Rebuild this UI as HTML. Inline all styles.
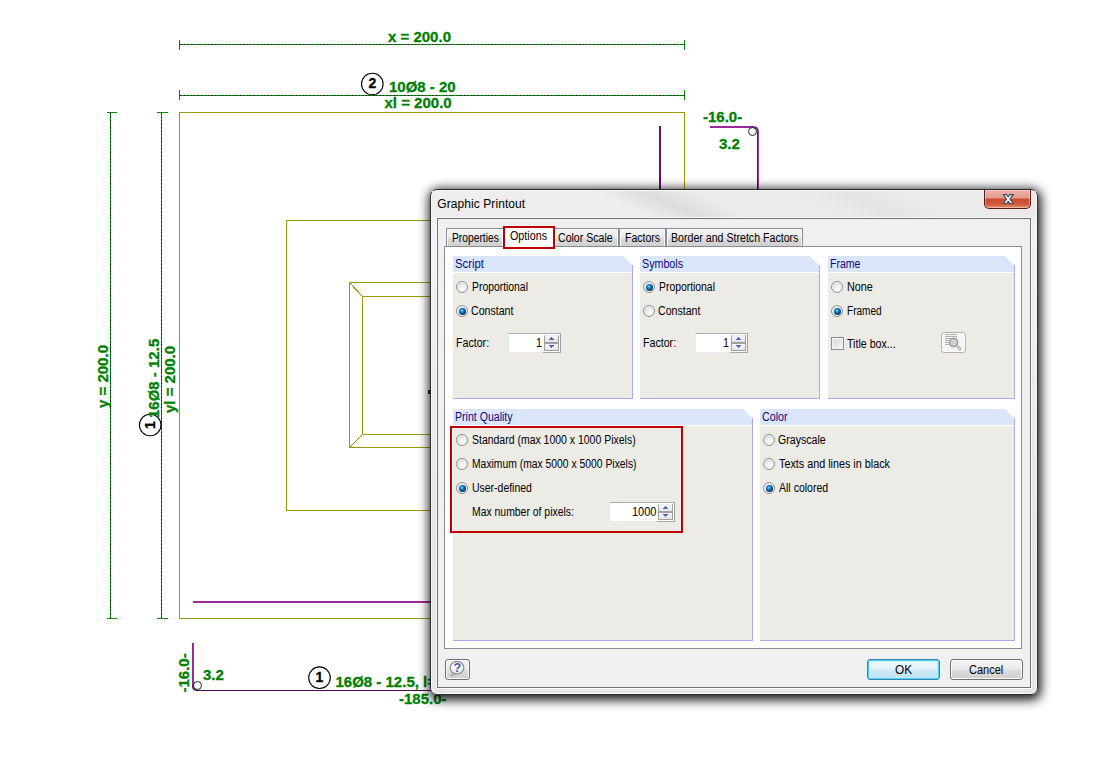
<!DOCTYPE html>
<html lang="en">
<head>
<meta charset="utf-8">
<title>Graphic Printout</title>
<style>
html,body{margin:0;padding:0;background:#fff;}
body{width:1101px;height:775px;position:relative;overflow:hidden;font-family:"Liberation Sans",sans-serif;}
#draw{position:absolute;left:0;top:0;width:1101px;height:775px;}
#draw text{font-family:"Liberation Sans",sans-serif;font-weight:bold;font-size:15px;fill:#008000;stroke:#008000;stroke-width:.3px;}
#draw text.k{fill:#000;stroke:#000;font-size:14px;}
.abs{position:absolute;}
/* dialog */
#dlg{position:absolute;left:430px;top:189px;width:606px;height:504px;border:1px solid #2a2a2a;border-radius:7px;
 background:linear-gradient(180deg,#f2f2f2 0%,#efefef 25%,#e5e5e5 70%,#e6e6e6 100%);
 box-shadow:inset 0 0 0 1px #fbfbfb, 1px 2.5px 11px 2px rgba(0,0,0,.9);}
#title{position:absolute;left:437.3px;top:197px;font-size:12px;color:#000;letter-spacing:.08px;white-space:pre;line-height:14px;}
#client{position:absolute;left:437px;top:218px;width:592px;height:468px;border:1px solid #707070;background:#f0f0f0;box-shadow:0 0 0 1px #fafafa;}
#close{position:absolute;left:984px;top:190px;width:45px;height:18px;border:1px solid #5a1a12;border-top:none;border-radius:0 0 5px 5px;
 background:linear-gradient(#eeb1a6 0%,#e09a8c 45%,#cd4a30 50%,#d15a3c 80%,#e8957c 100%);box-shadow:inset 0 0 0 1px rgba(255,255,255,.35);}
.t,.gt{position:absolute;font-size:12.5px;white-space:pre;line-height:15px;color:#000;transform-origin:0 0;transform:scaleX(var(--k,.86));}
.tab{position:absolute;top:228px;height:18px;border:1px solid #898c95;border-bottom:none;box-sizing:border-box;
 background:linear-gradient(#f3f3f3 0%,#ebebeb 48%,#dddddd 52%,#cfcfcf 100%);box-shadow:inset 1px 1px 0 #fbfbfb,inset -1px 0 0 #fbfbfb;}
#page{position:absolute;left:444px;top:246px;width:576px;height:401px;border:1px solid #898c95;background:#fff;}
.gh{position:absolute;height:16px;background:#dbe5fa;}
.gb{position:absolute;background:#ecebe6;border-right:1px solid #a9a9f0;border-bottom:1px solid #a9a9f0;box-sizing:border-box;}
.gt{color:#0a0a82;}
.rb{position:absolute;width:10px;height:10px;border:1px solid #8e8f8f;border-radius:50%;
 background:radial-gradient(circle at 62% 66%,#ffffff 0%,#eceded 40%,#c3c7cb 100%);box-shadow:inset 0 0 0 1px #f6f6f6;}
.rb.on::after{content:"";position:absolute;left:1.5px;top:1.5px;width:7px;height:7px;border-radius:50%;
 background:radial-gradient(circle at 42% 38%,#6fd4f5 0%,#1c86c6 28%,#0c3f74 58%,#082844 100%);}
.spin{position:absolute;height:18px;border:1px solid #e3e9ef;border-top-color:#abadb3;border-right-color:#a0a0a0;background:#fff;}
.sb{position:absolute;width:15px;border:1px solid #a0a0a0;background:linear-gradient(#f7f7f7,#e4e4e4);box-sizing:border-box;}
.btn{position:absolute;height:19px;border:1px solid #707070;border-radius:3px;
 background:linear-gradient(#f2f2f2 0%,#ebebeb 48%,#dddddd 52%,#cfcfcf 100%);box-shadow:inset 0 0 0 1px #fcfcfc;}
</style>
</head>
<body>
<!-- ================= drawing ================= -->
<svg id="draw" width="1101" height="775" viewBox="0 0 1101 775" shape-rendering="crispEdges">
 <!-- olive rectangles -->
 <g fill="none" stroke="#999900" stroke-width="1">
  <rect x="179.5" y="112.5" width="505" height="506"/>
  <rect x="286.5" y="220.5" width="291" height="290"/>
  <rect x="349.5" y="282.5" width="165" height="165"/>
  <rect x="362.5" y="296.5" width="139" height="138"/>
  <line x1="349.5" y1="282.5" x2="362.5" y2="296.5"/>
  <line x1="349.5" y1="447.5" x2="362.5" y2="434.5"/>
 </g>
 <!-- dimension lines -->
 <g fill="none" stroke="#008c00" stroke-width="1">
  <path d="M179.5 44.5H684.5M179.5 40V50M684.5 40V50"/>
  <path d="M179.5 95.5H684.5M179.5 90V100M684.5 90V100"/>
  <path d="M110.5 112.5V618.5M107 112.5H117M107 618.5H117"/>
  <path d="M161.5 112.5V618.5M157 112.5H168M157 618.5H168"/>
 </g>
 <g fill="none" stroke="#000" stroke-width="1" stroke-dasharray="1 2.5">
  <path d="M180 44.5H684.5M180 95.5H684.5M110.5 113V618.5M161.5 113V618.5"/>
 </g>
 <!-- purple bars -->
 <g fill="none">
  <path d="M193 602H431" stroke="#982a9a" stroke-width="2"/>
  <path d="M660 126V190" stroke="#6e0a6e" stroke-width="2"/>
  <path d="M710 127H753" stroke="#982a9a" stroke-width="2"/>
  <path d="M753 127Q758 127 758 132" stroke="#8a1c8a" stroke-width="2" shape-rendering="auto"/>
  <path d="M757.5 132V190" stroke="#5e085e" stroke-width="1"/>
  <path d="M758.5 132V190" stroke="#a83aa8" stroke-width="1"/>
  <path d="M193 643V686" stroke="#982a9a" stroke-width="2"/>
  <path d="M192.5 685Q192.5 690.5 198 690.5" stroke="#5a0e5a" stroke-width="1.4" shape-rendering="auto"/>
  <path d="M198 690.5H431" stroke="#4a0a4a" stroke-width="1"/>
 </g>
 <g fill="none" stroke="#0a3a0a" stroke-width="1" shape-rendering="auto">
  <circle cx="197.5" cy="685.5" r="4"/>
  <circle cx="752.5" cy="131.5" r="4"/>
 </g>
 <g fill="none" stroke="#000" stroke-width="1.1" shape-rendering="auto">
  <circle cx="372.3" cy="84" r="10.8"/>
  <circle cx="150.2" cy="425" r="10.8"/>
  <circle cx="319.5" cy="677.7" r="10.8"/>
 </g>
 <rect x="428" y="390" width="2" height="4" fill="#7a0000"/>
 <!-- labels -->
 <text x="388" y="42">x = 200.0</text>
 <text x="389" y="92">10Ø8 - 20</text>
 <text x="384.5" y="108">xl = 200.0</text>
 <text class="k" x="372.3" y="88" text-anchor="middle">2</text>
 <text x="703" y="122">-16.0-</text>
 <text x="719" y="148.5">3.2</text>
 <text transform="translate(108 408) rotate(-90)">y = 200.0</text>
 <text transform="translate(159 418) rotate(-90)">16Ø8 - 12.5</text>
 <text transform="translate(174.5 413) rotate(-90)">yl = 200.0</text>
 <text class="k" transform="translate(154.8 425) rotate(-90)" text-anchor="middle">1</text>
 <text transform="translate(188.5 692.5) rotate(-90)">-16.0-</text>
 <text x="203" y="680">3.2</text>
 <text class="k" x="319.5" y="682.3" text-anchor="middle">1</text>
 <text x="335.5" y="686.5">16Ø8 - 12.5, l=</text>
 <text x="399" y="704">-185.0-</text>
</svg>

<!-- ================= dialog ================= -->
<div id="dlg"></div>
<div class="abs" style="left:432px;top:191px;width:604px;height:26px;background:linear-gradient(25deg,#eeeeee 4%,#ededed 33%,#dddddd 40.5%,#ebebeb 48%,#eaeaea 64%,#e4e4e4 71%,#ececec 80%,#eaeaea 95%)"></div>
<div id="title">Graphic Printout</div>
<div id="close"></div>
<svg class="abs" style="left:1001.2px;top:193px" width="14.5" height="12.2" viewBox="0 0 13 11"><path d="M2 1.5h3l1.5 2 1.5-2h3l-3 4 3 4h-3l-1.5-2-1.5 2h-3l3-4z" fill="#fff" stroke="#3c4a66" stroke-width="1" stroke-linejoin="round"/></svg>
<div id="client"></div>

<!-- tabs -->
<div class="tab" style="left:446px;width:58px"></div>
<div class="tab" style="left:554px;width:65px"></div>
<div class="tab" style="left:619px;width:47px"></div>
<div class="tab" style="left:666px;width:137px"></div>
<div id="page"></div>
<div class="abs" style="left:505px;top:228px;width:48px;height:20px;background:#fff"></div>
<div class="abs" style="left:503px;top:226px;width:48px;height:19px;border:2px solid #c00000"></div>
<div class="t" style="left:451.7px;top:231px;--k:0.821">Properties</div>
<div class="t" style="left:509.6px;top:229px;--k:0.861">Options</div>
<div class="t" style="left:557.8px;top:231px;--k:0.845">Color Scale</div>
<div class="t" style="left:624.6px;top:231px;--k:0.842">Factors</div>
<div class="t" style="left:671.3px;top:231px;--k:0.849">Border and Stretch Factors</div>

<!-- group: Script -->
<div class="gh" style="left:453px;top:256px;width:180px;clip-path:polygon(0 0,170px 0,180px 10px,180px 16px,0 16px)"></div>
<div class="gb" style="left:453px;top:273px;width:180px;height:126px"></div>
<div class="abs" style="left:632px;top:265px;width:1px;height:8px;background:#a9a9f0"></div>
<div class="gt" style="left:454.6px;top:257px;--k:0.907">Script</div>
<div class="rb" style="left:456px;top:281px"></div><div class="t" style="left:471.6px;top:280px;--k:0.830">Proportional</div>
<div class="rb on" style="left:456px;top:305px"></div><div class="t" style="left:471.0px;top:304px;--k:0.848">Constant</div>
<div class="t" style="left:455.7px;top:336px;--k:0.851">Factor:</div>
<div class="spin" style="left:508px;top:333px;width:51px"></div>
<div class="abs" style="left:543px;top:352px;width:18px;height:1px;background:#a8a8a8"></div>
<div class="sb" style="left:544px;top:335px;height:8px;border-top-color:#ececec"></div>
<div class="sb" style="left:544px;top:343px;height:8px"></div>
<svg class="abs" style="left:548px;top:337px" width="7" height="12" viewBox="0 0 7 12" shape-rendering="crispEdges"><path d="M3 0h1v1h1v1h1v1H1V2h1V1h1z" fill="#4a68c4"/><path d="M1 8h5v1H5v1H4v1H3v-1H2V9H1z" fill="#4a68c4"/></svg>
<div class="t" style="left:535.8px;top:336px;--k:0.86">1</div>


<!-- group: Symbols -->
<div class="gh" style="left:640px;top:256px;width:180px;clip-path:polygon(0 0,170px 0,180px 10px,180px 16px,0 16px)"></div>
<div class="gb" style="left:640px;top:273px;width:180px;height:126px"></div>
<div class="abs" style="left:819px;top:265px;width:1px;height:8px;background:#a9a9f0"></div>
<div class="gt" style="left:641.8px;top:257px;--k:0.856">Symbols</div>
<div class="rb on" style="left:643px;top:281px"></div><div class="t" style="left:658.6px;top:280px;--k:0.830">Proportional</div>
<div class="rb" style="left:643px;top:305px"></div><div class="t" style="left:657.9px;top:304px;--k:0.848">Constant</div>
<div class="t" style="left:642.6px;top:336px;--k:0.851">Factor:</div>
<div class="spin" style="left:695px;top:333px;width:51px"></div>
<div class="abs" style="left:730px;top:352px;width:18px;height:1px;background:#a8a8a8"></div>
<div class="sb" style="left:731px;top:335px;height:8px;border-top-color:#ececec"></div>
<div class="sb" style="left:731px;top:343px;height:8px"></div>
<svg class="abs" style="left:735px;top:337px" width="7" height="12" viewBox="0 0 7 12" shape-rendering="crispEdges"><path d="M3 0h1v1h1v1h1v1H1V2h1V1h1z" fill="#4a68c4"/><path d="M1 8h5v1H5v1H4v1H3v-1H2V9H1z" fill="#4a68c4"/></svg>
<div class="t" style="left:722.8px;top:336px;--k:0.86">1</div>


<!-- group: Frame -->
<div class="gh" style="left:828px;top:256px;width:187px;clip-path:polygon(0 0,177px 0,187px 10px,187px 16px,0 16px)"></div>
<div class="gb" style="left:828px;top:273px;width:187px;height:126px"></div>
<div class="abs" style="left:1014px;top:265px;width:1px;height:8px;background:#a9a9f0"></div>
<div class="gt" style="left:829.8px;top:257px;--k:0.841">Frame</div>
<div class="rb" style="left:831px;top:281px"></div><div class="t" style="left:846.7px;top:280px;--k:0.864">None</div>
<div class="rb on" style="left:831px;top:305px"></div><div class="t" style="left:846.8px;top:304px;--k:0.804">Framed</div>
<div class="abs" style="left:831px;top:337px;width:11px;height:11px;border:1px solid #8e8f8f;background:linear-gradient(135deg,#d6d9dc,#f6f6f6);box-shadow:inset 0 0 0 1px #f4f4f4"></div>
<div class="t" style="left:847.2px;top:337px;--k:0.850">Title box...</div>
<div class="btn" style="left:941px;top:332px;width:23px;border-color:#adb2b5;background:#f4f4f4"></div>
<svg class="abs" style="left:944px;top:333px" width="19" height="19" viewBox="0 0 19 19"><g fill="none" stroke="#b4b2ab" stroke-width="1" shape-rendering="crispEdges"><path d="M1 1.5h12M1 3.5h12M1 5.5h12M1 7.5h4.5M1 9.5h4M1 11.5h4.5"/></g><circle cx="9.6" cy="9.6" r="4" fill="#d6d6d2" stroke="#9c9c96" stroke-width="1.5"/><path d="M7 8.5h5M7 10.5h5" stroke="#c8c8c4" stroke-width=".8"/><path d="M12.6 12.6L16 16" stroke="#aaaaa4" stroke-width="2.6" stroke-linecap="round"/><path d="M13 13L15.8 15.8" stroke="#f0f0ee" stroke-width="1" stroke-linecap="round"/></svg>

<!-- group: Print Quality -->
<div class="gh" style="left:453px;top:409px;width:300px;clip-path:polygon(0 0,290px 0,300px 10px,300px 16px,0 16px)"></div>
<div class="gb" style="left:453px;top:426px;width:300px;height:215px"></div>
<div class="abs" style="left:752px;top:418px;width:1px;height:8px;background:#a9a9f0"></div>
<div class="gt" style="left:454.7px;top:410px;--k:0.846">Print Quality</div>
<div class="rb" style="left:456px;top:434px"></div><div class="t" style="left:471.6px;top:433px;--k:0.838">Standard (max 1000 x 1000 Pixels)</div>
<div class="rb" style="left:456px;top:458px"></div><div class="t" style="left:471.7px;top:457px;--k:0.828">Maximum (max 5000 x 5000 Pixels)</div>
<div class="rb on" style="left:456px;top:482px"></div><div class="t" style="left:471.6px;top:481px;--k:0.837">User-defined</div>
<div class="t" style="left:471.7px;top:505px;--k:0.833">Max number of pixels:</div>
<div class="spin" style="left:609px;top:502px;width:64px"></div>
<div class="abs" style="left:657px;top:521px;width:18px;height:1px;background:#a8a8a8"></div>
<div class="sb" style="left:658px;top:504px;height:8px;border-top-color:#ececec"></div>
<div class="sb" style="left:658px;top:512px;height:8px"></div>
<svg class="abs" style="left:662px;top:506px" width="7" height="12" viewBox="0 0 7 12" shape-rendering="crispEdges"><path d="M3 0h1v1h1v1h1v1H1V2h1V1h1z" fill="#4a68c4"/><path d="M1 8h5v1H5v1H4v1H3v-1H2V9H1z" fill="#4a68c4"/></svg>
<div class="t" style="left:631.9px;top:505px;--k:0.879">1000</div>

<div class="abs" style="left:450px;top:426px;width:229px;height:103px;border:2px solid #c00000"></div>

<!-- group: Color -->
<div class="gh" style="left:760px;top:409px;width:255px;clip-path:polygon(0 0,245px 0,255px 10px,255px 16px,0 16px)"></div>
<div class="gb" style="left:760px;top:426px;width:255px;height:215px"></div>
<div class="abs" style="left:1014px;top:418px;width:1px;height:8px;background:#a9a9f0"></div>
<div class="gt" style="left:761.7px;top:410px;--k:0.857">Color</div>
<div class="rb" style="left:763px;top:434px"></div><div class="t" style="left:778.0px;top:433px;--k:0.848">Grayscale</div>
<div class="rb" style="left:763px;top:458px"></div><div class="t" style="left:778.5px;top:457px;--k:0.863">Texts and lines in black</div>
<div class="rb on" style="left:763px;top:482px"></div><div class="t" style="left:778.5px;top:481px;--k:0.843">All colored</div>

<!-- bottom buttons -->
<div class="btn" style="left:445px;top:659px;width:23px"></div>
<svg class="abs" style="left:448px;top:660px" width="19" height="19" viewBox="0 0 19 19"><defs><radialGradient id="hb" cx=".45" cy=".4" r=".65"><stop offset="0" stop-color="#fff"/><stop offset=".6" stop-color="#f4f4f4"/><stop offset="1" stop-color="#cfcfcf"/></radialGradient></defs><path d="M4.8 12.2L3.4 16 8.6 13.6z" fill="#f2f2f2" stroke="#8e8e8e" stroke-width=".9"/><ellipse cx="9" cy="7.7" rx="6.9" ry="6.3" fill="url(#hb)" stroke="#8a8a8a" stroke-width="1.1"/><text x="9.2" y="12" text-anchor="middle" font-family="Liberation Sans,sans-serif" font-weight="bold" font-size="12.5" fill="#3c58b4">?</text></svg>
<div class="btn" style="left:867px;top:659px;width:71px;border-color:#3c7fb1;box-shadow:inset 0 0 0 1px #46d4fa, inset 0 0 0 2px #bdeefb;background:linear-gradient(#f0f8fd 0%,#e2f2fb 48%,#cfe9f8 52%,#c0e1f4 100%)"></div>
<div class="t" style="left:894.6px;top:663px;--k:0.949">OK</div>
<div class="btn" style="left:950px;top:659px;width:71px"></div>
<div class="t" style="left:968.6px;top:663px;--k:0.882">Cancel</div>
</body>
</html>
